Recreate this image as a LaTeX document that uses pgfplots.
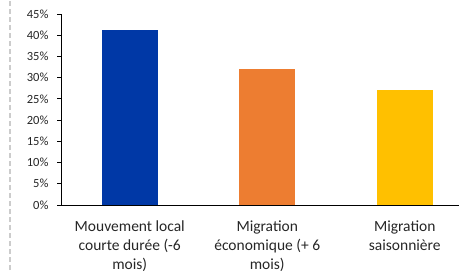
\documentclass[border=0pt]{standalone}
\usepackage{fontspec}
\setmainfont{Carlito}
\usepackage{pgfplots}
\pgfplotsset{compat=1.18}
\definecolor{cblue}{HTML}{0038A6}
\definecolor{corange}{HTML}{ED7D31}
\definecolor{cyellow}{HTML}{FFC000}
\begin{document}
\begin{tikzpicture}[x=1bp,y=1bp]
\path[use as bounding box] (0,0) rectangle (459,270);
\draw[color=black!20, line width=1.2bp, dash pattern=on 5bp off 3bp] (10,0) -- (10,270);
\begin{axis}[
  at={(61bp,65bp)}, anchor=south west,
  scale only axis, width=412.5bp, height=191bp,
  xmin=-0.5, xmax=2.5, ymin=0, ymax=45,
  axis x line=bottom, axis y line=left,
  axis line style={black, line width=0.9bp, -},
  xtick={0,1,2}, xtick style={draw=none},
  xticklabels={{Mouvement local\\courte durée (-6\\mois)},{Migration\\économique (+ 6\\mois)},{Migration\\saisonnière}},
  xticklabel style={align=center, font=\fontsize{15.5bp}{19bp}\selectfont, text=black!85, yshift=-8bp},
  ytick={0,5,...,45},
  yticklabels={0\%,5\%,10\%,15\%,20\%,25\%,30\%,35\%,40\%,45\%},
  yticklabel style={font=\fontsize{12.5bp}{14bp}\selectfont, text=black!85, xshift=-5bp},
  tick align=outside, major tick length=4bp,
  ytick style={black, line width=0.9bp},
  ybar, bar width=56bp, bar shift=0pt,
  clip=false,
]
\addplot[fill=cblue, draw=none] coordinates {(0,41.2)};
\addplot[fill=corange, draw=none] coordinates {(1,32)};
\addplot[fill=cyellow, draw=none] coordinates {(2,27.1)};
\end{axis}
\end{tikzpicture}
\end{document}
